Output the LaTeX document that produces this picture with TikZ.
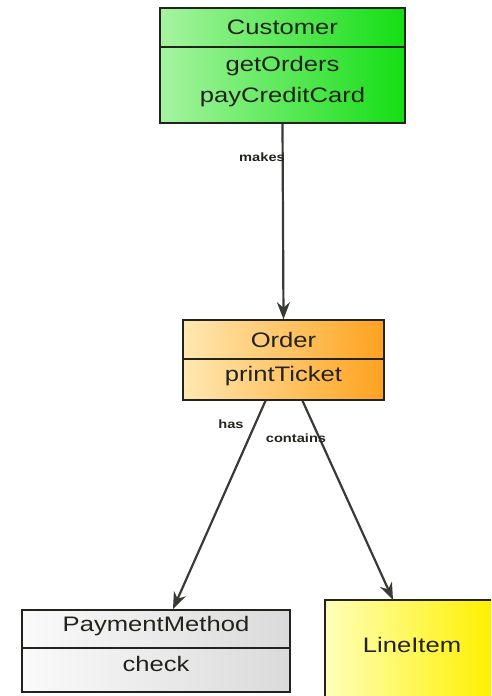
\documentclass[tikz,border=0pt]{standalone}
\usepackage{fontspec}
\setmainfont{Liberation Sans}
\newfontfamily\hand[FakeStretch=1.22]{Liberation Sans}
\usetikzlibrary{arrows.meta}
\definecolor{gA}{RGB}{165,244,160}
\definecolor{gB}{RGB}{20,222,20}
\definecolor{oA}{RGB}{255,232,178}
\definecolor{oB}{RGB}{255,162,30}
\definecolor{pA}{RGB}{250,250,250}
\definecolor{pB}{RGB}{218,218,218}
\definecolor{yA}{RGB}{255,255,185}
\definecolor{yB}{RGB}{255,240,0}
\definecolor{ink}{RGB}{35,35,30}
\begin{document}
\begin{tikzpicture}[x=1pt,y=1pt,
  classbox/.style={draw=ink, line width=1.6pt, inner sep=0pt},
  divider/.style={draw=ink, line width=1.5pt},
  ttl/.style={font=\hand\fontsize{21}{24}\selectfont, text=ink},
  lbl/.style={font=\hand\fontsize{12}{14}\selectfont\bfseries, text=ink},
  conn/.style={draw=ink!90, line width=2.2pt, -{Stealth[length=17pt,width=13pt]}}]
\useasboundingbox (0,0) rectangle (491,-696);
% Customer
\node[classbox, minimum width=245pt, minimum height=115pt, left color=gA, right color=gB] (cust) at (282.5,-65.5) {};
\draw[divider] (cust.west |- 0,-47) -- (cust.east |- 0,-47);
\node[ttl] (custname) at (282.5,-27) {Customer};
\node[ttl] (custop1) at (282.5,-66) {getOrders};
\node[ttl] (custop2) at (282.5,-97) {payCreditCard};
% Order
\node[classbox, minimum width=201pt, minimum height=80pt, left color=oA, right color=oB] (order) at (283.5,-360) {};
\draw[divider] (order.west |- 0,-359) -- (order.east |- 0,-359);
\node[ttl] (ordername) at (283.5,-340) {Order};
\node[ttl] (orderop1) at (283.5,-376) {printTicket};
% PaymentMethod
\node[classbox, minimum width=268pt, minimum height=82pt, left color=pA, right color=pB] (pm) at (156,-651) {};
\draw[divider] (pm.west |- 0,-648) -- (pm.east |- 0,-648);
\node[ttl] (pmname) at (156,-626) {PaymentMethod};
\node[ttl] (pmop1) at (156,-664) {check};
% LineItem (cut off by the picture's right and bottom edges)
\node[inner sep=0pt, minimum width=166pt, minimum height=96pt, left color=yA, right color=yB] (li) at (408,-648) {};
\draw[divider, line width=1.6pt] (li.south west) -- (li.north west) -- (li.north east);
\node[ttl] (liname) at (412,-645) {LineItem};
% connectors
\draw[conn] (cust.south) -- (order.north);
\draw[conn] ([xshift=-18pt]order.south) -- ([xshift=17pt]pm.north);
\draw[conn] ([xshift=19pt]order.south) -- ([xshift=-15pt]li.north);
% labels
\node[lbl] (makes) at (262,-157) {makes};
\node[lbl] (has) at (231,-424) {has};
\node[lbl] (contains) at (296,-438) {contains};
\end{tikzpicture}
\end{document}
